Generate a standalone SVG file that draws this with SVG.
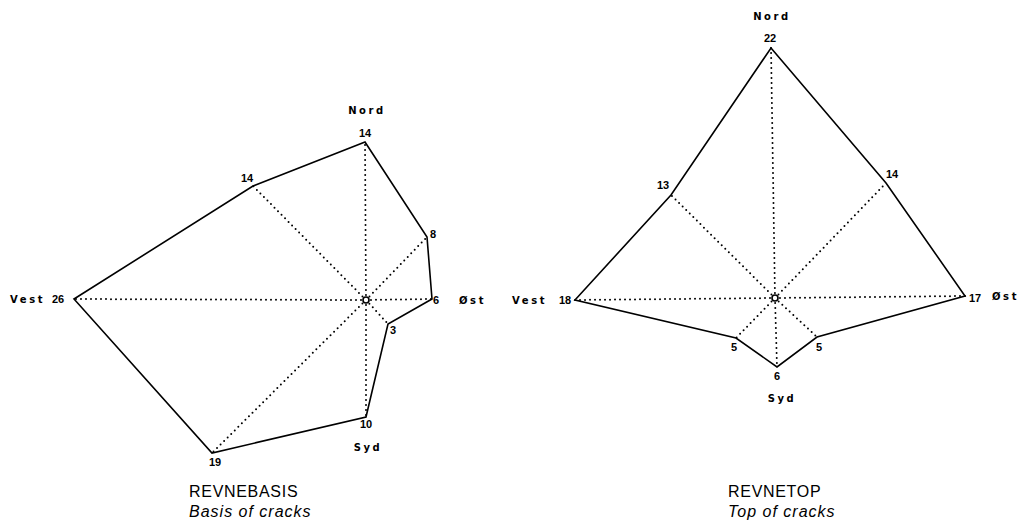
<svg xmlns="http://www.w3.org/2000/svg" width="1018" height="522" viewBox="0 0 1018 522">
<style>
.poly{fill:none;stroke:#000;stroke-width:1.6;stroke-linejoin:miter}
.ray{stroke:#000;stroke-width:2;stroke-dasharray:0 5;stroke-linecap:round;fill:none}
.ctr{fill:#fff;stroke:#000;stroke-width:1.6}
.dir{font-family:"DejaVu Sans","Liberation Sans",sans-serif;font-weight:bold;font-size:10px;letter-spacing:2.6px;fill:#000}
.num{font-family:"Liberation Sans",Arial,sans-serif;font-weight:bold;font-size:11px;fill:#000}
.ttl{font-family:"Liberation Sans",Arial,sans-serif;font-size:16px;letter-spacing:0.7px;fill:#000}
.sub{font-family:"Liberation Sans",Arial,sans-serif;font-size:16px;font-style:italic;letter-spacing:1px;fill:#000}
</style>
<rect width="1018" height="522" fill="#fff"/>

<g id="connectors">
  <g id="left-rays">
    <line class="ray" x1="366" y1="300" x2="365" y2="142"/>
    <line class="ray" x1="366" y1="300" x2="253" y2="186"/>
    <line class="ray" x1="366" y1="300" x2="427" y2="237"/>
    <line class="ray" x1="366" y1="300" x2="432" y2="299"/>
    <line class="ray" x1="366" y1="300" x2="388" y2="324"/>
    <line class="ray" x1="366" y1="300" x2="366" y2="417"/>
    <line class="ray" x1="366" y1="300" x2="212" y2="453"/>
    <line class="ray" x1="366" y1="300" x2="74" y2="299"/>
  </g>
  <g id="right-rays">
    <line class="ray" x1="775" y1="298" x2="771" y2="48"/>
    <line class="ray" x1="775" y1="298" x2="671" y2="195"/>
    <line class="ray" x1="775" y1="298" x2="886" y2="183"/>
    <line class="ray" x1="775" y1="298" x2="965" y2="296"/>
    <line class="ray" x1="775" y1="298" x2="817" y2="337"/>
    <line class="ray" x1="775" y1="298" x2="777" y2="367"/>
    <line class="ray" x1="775" y1="298" x2="736" y2="338"/>
    <line class="ray" x1="775" y1="298" x2="575" y2="300"/>
  </g>
</g>

<g id="revnebasis">
  <polygon class="poly" points="365,142 427,237 432,299 388,324 366,417 212,453 74,299 253,186"/>
  <circle class="ctr" cx="366" cy="300" r="3"/>
  <text class="dir" x="367" y="114" text-anchor="middle">Nord</text>
  <text class="dir" x="368" y="451" text-anchor="middle">Syd</text>
  <text class="dir" x="10" y="303">Vest</text>
  <text class="dir" x="459" y="304">Øst</text>
  <text class="num" x="365" y="137" text-anchor="middle">14</text>
  <text class="num" x="247" y="182" text-anchor="middle">14</text>
  <text class="num" x="430" y="238">8</text>
  <text class="num" x="433" y="304">6</text>
  <text class="num" x="390" y="334">3</text>
  <text class="num" x="366" y="428" text-anchor="middle">10</text>
  <text class="num" x="215" y="466" text-anchor="middle">19</text>
  <text class="num" x="52" y="303">26</text>
  <text class="ttl" x="189" y="497">REVNEBASIS</text>
  <text class="sub" x="189" y="517">Basis of cracks</text>
</g>

<g id="revnetop">
  <polygon class="poly" points="771,48 886,183 965,296 817,337 777,367 736,338 575,300 671,195"/>
  <circle class="ctr" cx="775" cy="298" r="3"/>
  <text class="dir" x="772" y="20" text-anchor="middle">Nord</text>
  <text class="dir" x="782" y="402" text-anchor="middle">Syd</text>
  <text class="dir" x="512" y="304">Vest</text>
  <text class="dir" x="992" y="300">Øst</text>
  <text class="num" x="770" y="42" text-anchor="middle">22</text>
  <text class="num" x="663" y="189" text-anchor="middle">13</text>
  <text class="num" x="892" y="178" text-anchor="middle">14</text>
  <text class="num" x="969" y="302">17</text>
  <text class="num" x="819" y="351" text-anchor="middle">5</text>
  <text class="num" x="734" y="351" text-anchor="middle">5</text>
  <text class="num" x="777" y="380" text-anchor="middle">6</text>
  <text class="num" x="559" y="304">18</text>
  <text class="ttl" x="728" y="497">REVNETOP</text>
  <text class="sub" x="728" y="517">Top of cracks</text>
</g>
</svg>
